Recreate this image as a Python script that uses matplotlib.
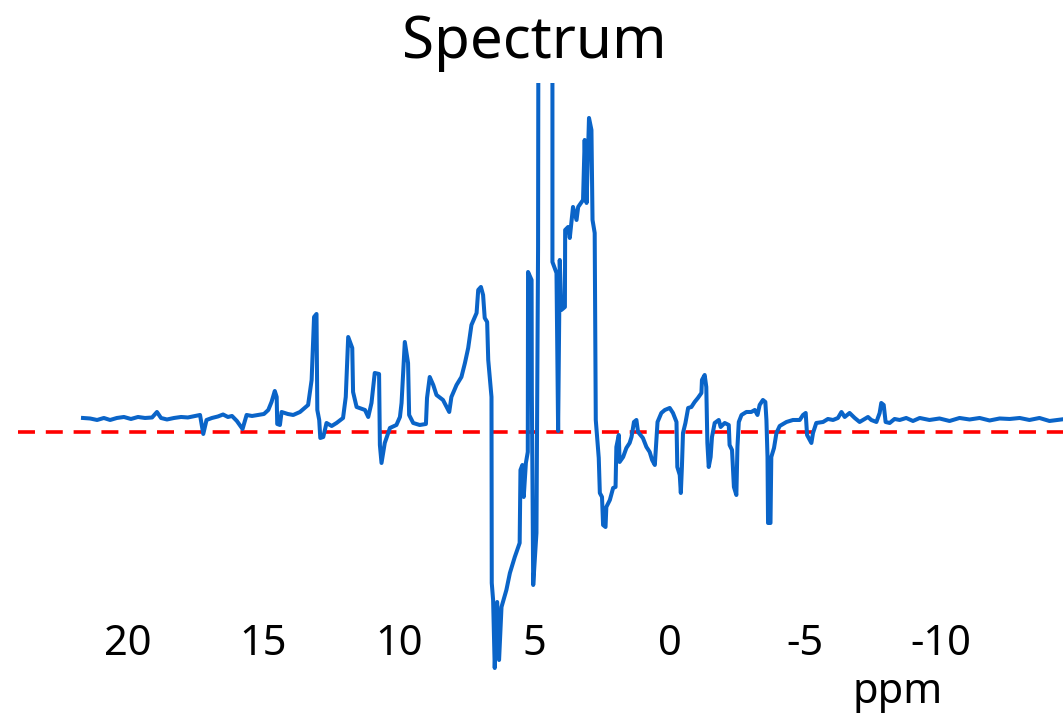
import matplotlib
matplotlib.use("Agg")
import matplotlib.pyplot as plt

plt.rcParams['font.family'] = ['Noto Sans', 'DejaVu Sans']

# chemical shift (ppm) and intensity
ppm = [21.66, 21.40, 21.14, 20.89, 20.66, 20.41, 20.15, 19.89, 19.63, 19.37,
       19.11, 18.93, 18.78, 18.56, 18.30, 18.04, 17.79, 17.53, 17.34, 17.22,
       17.10, 16.90, 16.68, 16.49, 16.31, 16.16, 15.98, 15.77, 15.62, 15.42,
       15.20, 14.98, 14.82, 14.70, 14.58, 14.51, 14.49, 14.39, 14.33, 14.10,
       13.90, 13.65, 13.35, 13.22, 13.13, 13.04, 13.01, 12.94, 12.90, 12.79,
       12.67, 12.48, 12.30, 12.06, 11.96, 11.87, 11.72, 11.69, 11.56, 11.25,
       11.13, 11.01, 10.89, 10.73, 10.70, 10.64, 10.52, 10.33, 10.09, 9.96,
       9.90, 9.78, 9.66, 9.62, 9.47, 9.23, 9.00, 8.96, 8.86, 8.73,
       8.61, 8.37, 8.14, 8.06, 7.87, 7.69, 7.56, 7.44, 7.32, 7.13,
       7.07, 6.97, 6.89, 6.83, 6.74, 6.70, 6.58, 6.57, 6.52, 6.46,
       6.37, 6.30, 6.21, 6.03, 5.90, 5.72, 5.54, 5.51, 5.44, 5.39,
       5.31, 5.24, 5.23, 5.10, 5.09, 5.04, 4.92, 4.86, 4.85, 4.33,
       4.33, 4.18, 4.12, 4.06, 4.00, 3.87, 3.86, 3.75, 3.69, 3.57,
       3.44, 3.38, 3.20, 3.14, 3.07, 2.98, 2.89, 2.85, 2.77, 2.73,
       2.62, 2.58, 2.50, 2.46, 2.37, 2.34, 2.21, 2.09, 2.00, 1.97,
       1.88, 1.85, 1.72, 1.60, 1.48, 1.41, 1.32, 1.23, 1.17, 0.99,
       0.86, 0.74, 0.65, 0.55, 0.49, 0.45, 0.31, 0.18, 0.00, -0.12,
       -0.25, -0.28, -0.37, -0.41, -0.45, -0.49, -0.58, -0.68, -0.80, -0.92,
       -1.04, -1.17, -1.19, -1.29, -1.35, -1.39, -1.44, -1.51, -1.56, -1.66,
       -1.81, -1.88, -2.03, -2.18, -2.21, -2.30, -2.37, -2.46, -2.50, -2.55,
       -2.65, -2.83, -3.01, -3.14, -3.24, -3.32, -3.44, -3.53, -3.57, -3.61,
       -3.63, -3.72, -3.75, -3.85, -3.94, -4.06, -4.31, -4.55, -4.80, -4.92,
       -5.02, -5.07, -5.23, -5.29, -5.41, -5.66, -5.84, -6.03, -6.21, -6.34,
       -6.46, -6.64, -6.83, -7.01, -7.20, -7.32, -7.44, -7.63, -7.75, -7.81,
       -7.90, -7.97, -8.12, -8.30, -8.49, -8.73, -8.98, -9.23, -9.59, -9.96,
       -10.33, -10.70, -11.07, -11.44, -11.81, -12.18, -12.55, -12.92, -13.28, -13.65,
       -14.02, -14.60]
intensity = [0.14, 0.135, 0.12, 0.14, 0.12, 0.14, 0.15, 0.13, 0.15, 0.14,
             0.145, 0.20, 0.14, 0.125, 0.14, 0.15, 0.145, 0.16, 0.17, -0.02,
             0.12, 0.14, 0.155, 0.175, 0.15, 0.16, 0.11, 0.03, 0.17, 0.16,
             0.17, 0.18, 0.22, 0.30, 0.41, 0.35, 0.08, 0.07, 0.20, 0.18,
             0.17, 0.20, 0.27, 0.52, 1.15, 1.18, 0.22, 0.12, -0.06, -0.05,
             0.09, 0.06, 0.09, 0.14, 0.35, 0.95, 0.84, 0.40, 0.25, 0.22,
             0.15, 0.29, 0.59, 0.58, -0.13, -0.31, -0.11, 0.04, 0.07, 0.15,
             0.29, 0.90, 0.69, 0.17, 0.09, 0.07, 0.08, 0.34, 0.55, 0.47,
             0.37, 0.32, 0.20, 0.35, 0.47, 0.55, 0.69, 0.84, 1.07, 1.19,
             1.42, 1.45, 1.37, 1.14, 1.10, 0.72, 0.35, -1.51, -1.68, -2.36,
             -1.70, -2.28, -1.75, -1.58, -1.41, -1.25, -1.11, -0.38, -0.33, -0.65,
             -0.31, -0.20, 1.60, 1.52, 0.39, -1.53, -1.01, 1.85, 3.82, 3.82,
             1.70, 1.59, 0.01, 1.72, 1.22, 1.25, 2.02, 2.05, 1.94, 2.25,
             2.12, 2.25, 2.32, 2.92, 2.29, 3.14, 3.02, 2.12, 1.99, 0.12,
             -0.26, -0.61, -0.65, -0.93, -0.95, -0.75, -0.68, -0.56, -0.55, -0.15,
             -0.03, -0.30, -0.25, -0.16, -0.11, -0.05, 0.10, 0.12, 0.00, -0.06,
             -0.15, -0.20, -0.28, -0.33, -0.08, 0.10, 0.19, 0.22, 0.24, 0.19,
             0.10, -0.35, -0.43, -0.61, -0.35, -0.01, 0.09, 0.24, 0.25, 0.30,
             0.34, 0.39, 0.52, 0.57, 0.45, -0.11, -0.35, -0.25, -0.05, 0.09,
             0.12, 0.05, 0.09, 0.07, -0.13, -0.18, -0.55, -0.63, -0.15, 0.10,
             0.17, 0.20, 0.20, 0.22, 0.17, 0.27, 0.32, 0.30, 0.12, -0.25,
             -0.91, -0.91, -0.25, -0.16, -0.01, 0.06, 0.10, 0.12, 0.12, 0.17,
             0.19, -0.03, -0.11, -0.01, 0.09, 0.10, 0.13, 0.12, 0.14, 0.20,
             0.15, 0.19, 0.14, 0.10, 0.13, 0.15, 0.12, 0.10, 0.19, 0.29,
             0.27, 0.10, 0.09, 0.13, 0.12, 0.14, 0.11, 0.14, 0.12, 0.135,
             0.11, 0.14, 0.125, 0.14, 0.115, 0.135, 0.13, 0.14, 0.12, 0.14,
             0.11, 0.13]

tick_vals = [20, 15, 10, 5, 0, -5, -10]
tick_text = ['20', '15', '10', '5', '0', '-5', '-10']

fig = plt.figure(figsize=(10.63, 7.15), dpi=100)
ax = fig.add_axes([0.01693, 0.03497, 0.9831, 0.8490])

ax.plot(ppm, intensity, color='#0A64C8', lw=2.9, zorder=3)
ax.axhline(0, color='#FF0000', lw=2.6, dashes=(4.7, 3.0), zorder=2)

ax.set_xlim(24.06, -14.52)
ax.set_ylim(-2.58, 3.49)

for s in ax.spines.values():
    s.set_visible(False)
ax.set_yticks([])
ax.set_xticks(tick_vals)
ax.set_xticklabels(tick_text)
ax.tick_params(axis='x', length=0, pad=-25, labelsize=30)
plt.setp(ax.get_xticklabels(), va='baseline')

fig.text(898 / 1063, 1 - 703 / 715, 'ppm', ha='center', va='baseline', fontsize=30)
fig.text(534 / 1063, 1 - 58 / 715, 'Spectrum', ha='center', va='baseline', fontsize=42)

fig.savefig('out.png', dpi=100)
